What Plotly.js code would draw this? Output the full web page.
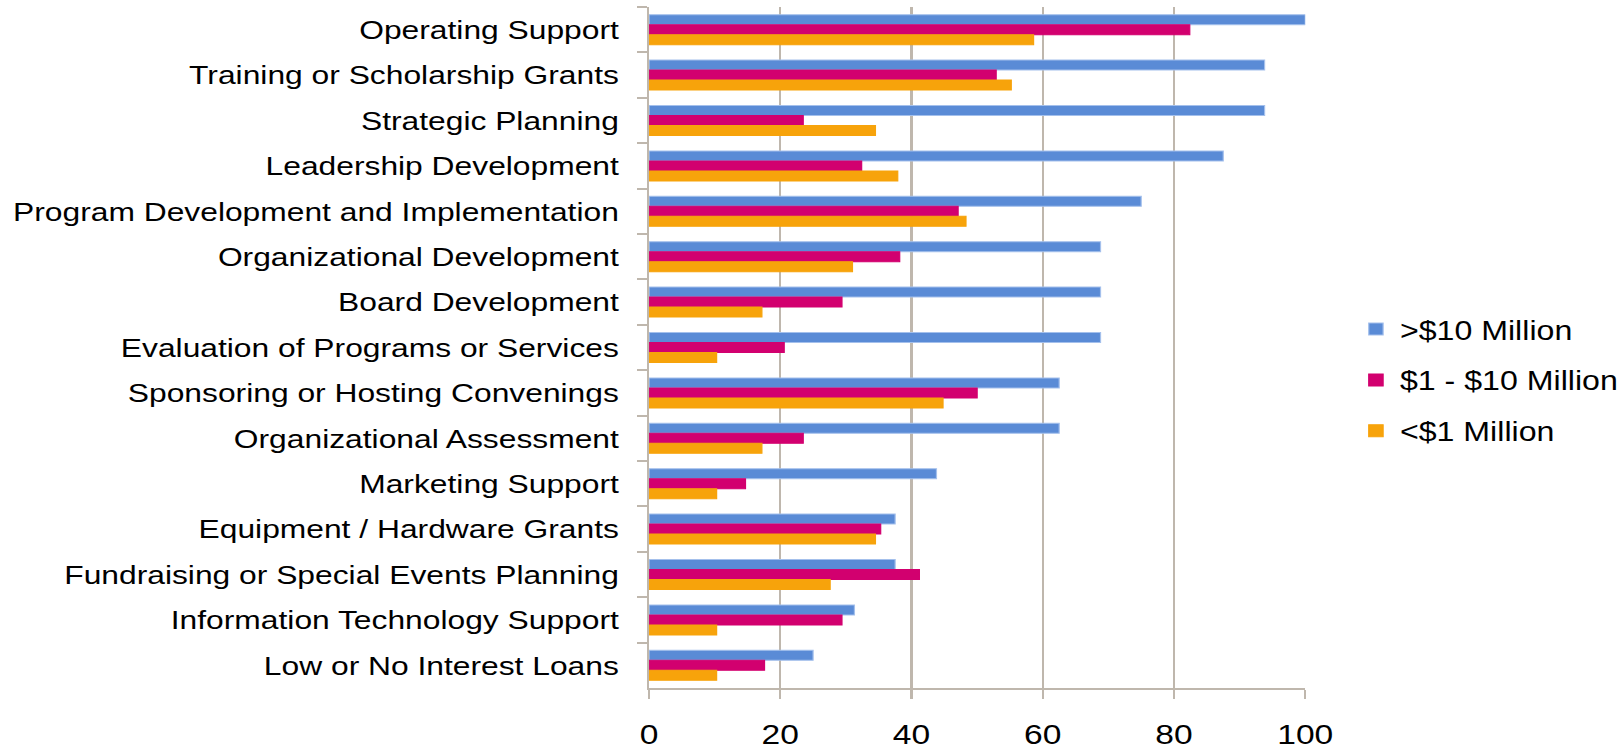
<!DOCTYPE html>
<html>
<head>
<meta charset="utf-8">
<script src="https://cdn.plot.ly/plotly-3.0.1.min.js"></script>
<style>
  html, body { margin: 0; padding: 0; background: #ffffff; }
  #wrap { width: 1622px; height: 750px; overflow: hidden; position: relative; }
  #chart { width: 1352px; height: 750px; transform: scaleX(1.1997); transform-origin: 0 0; }
</style>
</head>
<body>
<div id="wrap"><div id="chart"></div></div>
<script>
const categories = [
  "Operating Support",
  "Training or Scholarship Grants",
  "Strategic Planning",
  "Leadership Development",
  "Program Development and Implementation",
  "Organizational Development",
  "Board Development",
  "Evaluation of Programs or Services",
  "Sponsoring or Hosting Convenings",
  "Organizational Assessment",
  "Marketing Support",
  "Equipment / Hardware Grants",
  "Fundraising or Special Events Planning",
  "Information Technology Support",
  "Low or No Interest Loans"
];
const seriesNames = [">$10 Million", "$1 - $10 Million", "<$1 Million"];
const over10M = [100, 93.8, 93.8, 87.5, 75.0, 68.8, 68.8, 68.8, 62.5, 62.5, 43.8, 37.5, 37.5, 31.3, 25.0];
const from1to10M = [82.4, 52.9, 23.5, 32.4, 47.1, 38.2, 29.4, 20.6, 50.0, 23.5, 14.7, 35.3, 41.2, 29.4, 17.6];
const under1M = [58.6, 55.2, 34.5, 37.9, 48.3, 31.0, 17.2, 10.3, 44.8, 17.2, 10.3, 34.5, 27.6, 10.3, 10.3];
const xTicks = [0, 20, 40, 60, 80, 100];

const colors = ["#5A8BD6", "#D2006F", "#F7A30B"];
const edgeColors = ["#A4C0EC", "#D2006F", "#F7A30B"];
const values = [over10M, from1to10M, under1M];

const FONT = "Liberation Sans, Arial, sans-serif";
const GRID = "#BFB7AD";

const traces = values.map((v, i) => ({
  type: "bar",
  orientation: "h",
  name: seriesNames[i],
  legendgroup: "g" + i,
  x: v,
  y: categories,
  marker: { color: colors[i], line: { color: edgeColors[i], width: 1 } },
  hoverinfo: "x+y+name"
}));

const layout = {
  width: 1352,
  height: 750,
  margin: { l: 541, r: 264, t: 7, b: 62, pad: 0, autoexpand: false },
  paper_bgcolor: "#ffffff",
  plot_bgcolor: "#ffffff",
  barmode: "group",
  bargap: 0.34,
  bargroupgap: 0,
  font: { family: FONT, color: "#000000", size: 26.5 },
  showlegend: true,
  legend: {
    x: 1.0711, xanchor: "left",
    y: 0.452, yanchor: "middle",
    traceorder: "grouped",
    tracegroupgap: 13,
    font: { family: FONT, size: 26.8, color: "#000000" },
    bgcolor: "rgba(0,0,0,0)",
    borderwidth: 0
  },
  xaxis: {
    range: [0, 100],
    tickvals: xTicks,
    ticktext: xTicks.map(String),
    showgrid: true,
    gridcolor: GRID,
    gridwidth: 1.6,
    zeroline: false,
    showline: true,
    linecolor: GRID,
    linewidth: 2,
    ticks: "outside",
    ticklen: 9,
    tickwidth: 1.6,
    tickcolor: GRID,
    ticklabelstandoff: 11,
    tickfont: { family: FONT, size: 28, color: "#000000" },
    fixedrange: true
  },
  yaxis: {
    type: "category",
    categoryorder: "array",
    categoryarray: categories,
    autorange: "reversed",
    showgrid: false,
    zeroline: false,
    showline: true,
    linecolor: GRID,
    linewidth: 1.7,
    ticks: "outside",
    tickson: "boundaries",
    ticklen: 8,
    tickwidth: 2,
    tickcolor: GRID,
    ticklabelstandoff: 18,
    tickfont: { family: FONT, size: 26.5, color: "#000000" },
    fixedrange: true
  }
};

Plotly.newPlot("chart", traces, layout, { displayModeBar: false, responsive: false });
</script>
</body>
</html>
